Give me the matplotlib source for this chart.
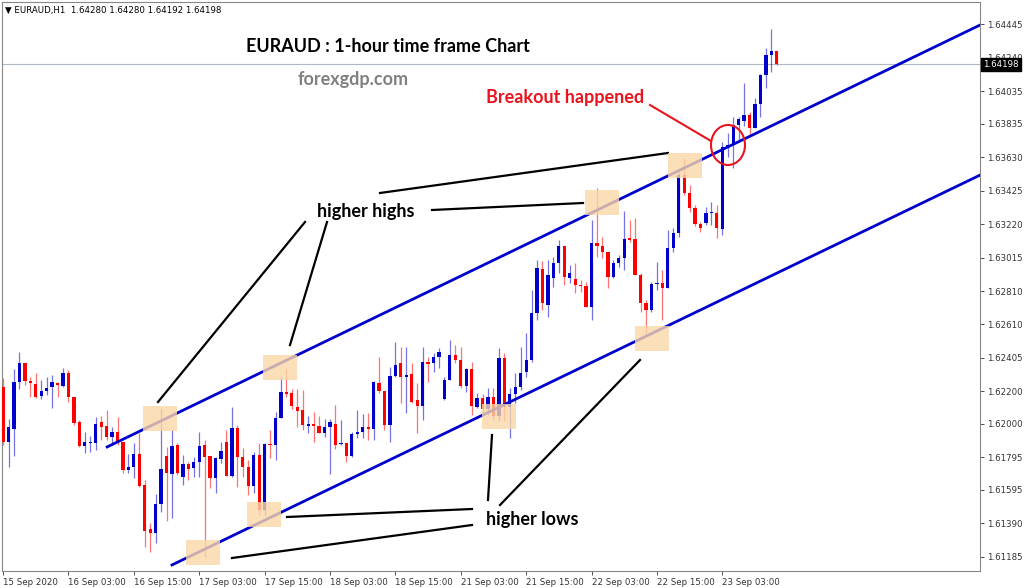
import matplotlib
matplotlib.use("Agg")
import matplotlib.pyplot as plt
from matplotlib.patches import Rectangle, Ellipse
import numpy as np

# ---- data (prices) ----
opens = [1.62224,1.61887,1.61967,1.62254,1.62370,1.62260,1.62242,1.62168,1.62199,1.62224,1.62248,1.62230,1.62309,1.62162,1.62009,1.61862,1.61881,1.61881,1.62009,1.61985,
         1.61918,1.61948,1.61887,1.61716,1.61734,1.61814,1.61624,1.61355,1.61330,1.61508,1.61801,1.61691,1.61869,1.61673,1.61752,1.61728,1.61765,1.61869,1.61801,1.61667,
         1.61783,1.61887,1.61679,1.61973,1.61795,1.61734,1.61618,1.61807,1.61471,1.61875,1.61869,1.62034,1.62193,1.62187,1.62101,1.62083,1.61985,1.61997,1.61985,1.61942,
         1.61979,1.61997,1.61875,1.61881,1.61801,1.61936,1.61948,1.61979,1.61967,1.62248,1.62199,1.61991,1.62291,1.62370,1.62285,1.62303,1.62144,1.62107,1.62377,1.62370,
         1.62407,1.62150,1.62266,1.62419,1.62389,1.62230,1.62334,1.62101,1.62156,1.62089,1.62162,1.62046,1.62401,1.62101,1.62181,1.62224,1.62315,1.62389,1.62676,1.62946,
         1.62725,1.62891,1.62982,1.63086,1.62891,1.62885,1.62848,1.62842,1.62713,1.63105,1.63086,1.63050,1.62897,1.62982,1.63013,1.63135,1.63129,1.62909,1.62738,1.62695,
         1.62854,1.62860,1.62829,1.63074,1.63166,1.63521,1.63411,1.63319,1.63221,1.63227,1.63288,1.63288,1.63191,1.63692,1.63705,1.63827,1.63851,1.63888,1.63809,1.63956,
         1.64133,1.64255,1.64280]
highs = [1.62279,1.62028,1.62334,1.62438,1.62370,1.62285,1.62309,1.62266,1.62285,1.62297,1.62254,1.62340,1.62328,1.62162,1.62022,1.61948,1.61924,1.62040,1.62046,1.62083,
         1.61979,1.62040,1.61887,1.61814,1.61881,1.61942,1.61654,1.61391,1.61569,1.62089,1.61856,1.61960,1.61881,1.61807,1.61765,1.61795,1.61948,1.61899,1.61801,1.61795,
         1.61887,1.61960,1.62101,1.61991,1.61850,1.61777,1.61826,1.61881,1.61881,1.61960,1.62071,1.62285,1.62334,1.62211,1.62211,1.62205,1.62046,1.62071,1.62046,1.62028,
         1.62028,1.62113,1.62022,1.61881,1.61948,1.62083,1.62058,1.62064,1.62260,1.62407,1.62199,1.62346,1.62499,1.62468,1.62468,1.62370,1.62248,1.62468,1.62407,1.62432,
         1.62462,1.62285,1.62511,1.62481,1.62468,1.62340,1.62377,1.62187,1.62181,1.62217,1.62217,1.62462,1.62432,1.62217,1.62309,1.62468,1.62554,1.62817,1.63001,1.62995,
         1.63001,1.63019,1.63123,1.63086,1.62970,1.62982,1.62878,1.62866,1.63246,1.63441,1.63142,1.63050,1.63001,1.63031,1.63301,1.63246,1.63258,1.62921,1.62756,1.62866,
         1.62989,1.62940,1.63184,1.63197,1.63539,1.63625,1.63460,1.63337,1.63233,1.63325,1.63356,1.63337,1.63723,1.63778,1.63876,1.63876,1.64084,1.63907,1.63992,1.64139,
         1.64298,1.64415,1.64280]
lows  = [1.61869,1.61734,1.61801,1.62211,1.62236,1.62162,1.62156,1.62150,1.62175,1.62095,1.62162,1.62224,1.62132,1.61991,1.61856,1.61820,1.61826,1.61838,1.61899,1.61899,
         1.61869,1.61869,1.61697,1.61697,1.61667,1.61612,1.61244,1.61214,1.61269,1.61459,1.61404,1.61422,1.61685,1.61624,1.61654,1.61673,1.61673,1.61183,1.61605,1.61575,
         1.61758,1.61679,1.61673,1.61612,1.61673,1.61563,1.61575,1.61440,1.61440,1.61789,1.61777,1.62034,1.62162,1.62089,1.61979,1.61960,1.61942,1.61887,1.61942,1.61918,
         1.61691,1.61844,1.61869,1.61765,1.61795,1.61911,1.61911,1.61899,1.61899,1.62187,1.61960,1.61887,1.62285,1.62126,1.62064,1.62126,1.61942,1.62022,1.62254,1.62315,
         1.62340,1.62144,1.62266,1.62370,1.62217,1.62193,1.62052,1.62095,1.62064,1.62052,1.62022,1.62015,1.62015,1.61911,1.62126,1.62205,1.62285,1.62377,1.62634,1.62695,
         1.62652,1.62836,1.62921,1.62848,1.62860,1.62799,1.62805,1.62713,1.62634,1.63019,1.63013,1.62829,1.62891,1.62958,1.62940,1.63111,1.62909,1.62683,1.62554,1.62683,
         1.62817,1.62634,1.62829,1.63050,1.63142,1.63399,1.63295,1.63209,1.63172,1.63215,1.63215,1.63135,1.63154,1.63631,1.63564,1.63735,1.63821,1.63766,1.63809,1.63876,
         1.64053,1.64151,1.64192]
closes = [1.61887,1.61979,1.62254,1.62370,1.62260,1.62248,1.62162,1.62199,1.62217,1.62254,1.62236,1.62309,1.62162,1.62003,1.61862,1.61887,1.61887,1.61997,1.61979,1.61918,
          1.61948,1.61887,1.61716,1.61734,1.61814,1.61618,1.61342,1.61330,1.61508,1.61722,1.61697,1.61862,1.61697,1.61752,1.61722,1.61765,1.61862,1.61795,1.61667,1.61789,
          1.61832,1.61679,1.61973,1.61795,1.61734,1.61618,1.61807,1.61471,1.61875,1.61869,1.62034,1.62193,1.62181,1.62107,1.62077,1.61991,1.61997,1.61985,1.61942,1.61979,
          1.62009,1.61869,1.61881,1.61801,1.61936,1.61948,1.61979,1.61967,1.62254,1.62199,1.61991,1.62291,1.62358,1.62285,1.62297,1.62132,1.62107,1.62377,1.62364,1.62407,
          1.62438,1.62266,1.62419,1.62389,1.62230,1.62334,1.62107,1.62156,1.62089,1.62162,1.62046,1.62401,1.62101,1.62181,1.62224,1.62309,1.62389,1.62676,1.62952,1.62738,
          1.62909,1.62982,1.63086,1.62897,1.62921,1.62848,1.62842,1.62713,1.63105,1.63086,1.63050,1.62897,1.62982,1.63013,1.63129,1.63123,1.62909,1.62738,1.62695,1.62854,
          1.62860,1.62829,1.63074,1.63166,1.63521,1.63411,1.63319,1.63221,1.63197,1.63288,1.63295,1.63197,1.63692,1.63705,1.63827,1.63864,1.63888,1.63809,1.63956,1.64133,
          1.64255,1.64280,1.64198]

tick_labels = ["15 Sep 2020","16 Sep 03:00","16 Sep 15:00","17 Sep 03:00","17 Sep 15:00","18 Sep 03:00",
               "18 Sep 15:00","21 Sep 03:00","21 Sep 15:00","22 Sep 03:00","22 Sep 15:00","23 Sep 03:00"]
tick_pos = [0,12,24,36,48,60,72,84,96,108,120,132]
price_ticks = [1.61185,1.61390,1.61595,1.61795,1.62000,1.62200,1.62405,1.62610,1.62810,1.63015,
               1.63220,1.63425,1.63630,1.63835,1.64035,1.64240,1.64445]
upper_channel_x = [19.1, 179.3]
upper_channel_y = [1.61858, 1.64439]
lower_channel_x = [31.0, 179.3]
lower_channel_y = [1.61136, 1.63521]
last_price = 1.64198

W, H = 1024, 588
fig = plt.figure(figsize=(W/100, H/100), dpi=100)
ax = fig.add_axes([2/W, 1-571/H, 978/W, 569/H])
ax.set_xlim(-0.2, 179.3)
ax.set_ylim(1.61099, 1.64580)

blue, red = "#0000CC", "#FF0000"
for i,(o,h,l,c) in enumerate(zip(opens,highs,lows,closes)):
    col = blue if c >= o else red
    ax.plot([i,i],[l,h], color=col, lw=0.9, alpha=0.55, zorder=3, solid_capstyle="butt")
    bot, top = min(o,c), max(o,c)
    ax.add_patch(Rectangle((i-0.3, bot), 0.6, max(top-bot, 0.00004), color=col, lw=0, zorder=4))

ax.plot(upper_channel_x, upper_channel_y, color="#0000CC", lw=2, zorder=5)
ax.plot(lower_channel_x, lower_channel_y, color="#0000CC", lw=2, zorder=5)
ax.axhline(last_price, color="#B0B8C4", lw=0.8, zorder=1)

ax.yaxis.tick_right()
ax.set_yticks(price_ticks)
ax.set_yticklabels([f"{v:.5f}" for v in price_ticks], fontsize=6.2, family="DejaVu Sans")
ax.set_xticks(tick_pos)
ax.set_xticklabels(tick_labels, fontsize=6.2, ha="left", family="DejaVu Sans")
ax.tick_params(length=3, width=0.6, colors="#333333", pad=2)
for s in ax.spines.values():
    s.set_color("#888888"); s.set_linewidth(0.8)
ax.text(1.003, (last_price-1.61099)/(1.64580-1.61099), "1.64198", transform=ax.transAxes,
        fontsize=6.2, color="white", va="center", ha="left", family="DejaVu Sans", zorder=10,
        bbox=dict(boxstyle="square,pad=0.25", fc="black", ec="black"))

def P(x, y):
    return (x/W, 1-y/H)
T = fig.transFigure
boxes = [(143,406),(263,355),(186,540),(247,502),(482,404),(585,190),(668,153),(635,326)]
for (bx,by) in boxes:
    fig.patches.append(Rectangle(P(bx,by+25), 34/W, 25/H, transform=T, fc="#FAD7A8", ec="none", alpha=0.8, zorder=2))

lines = [((158,402),(305,222)),((290,345),(327,222)),((380,193),(668,153)),((432,210),(583,203)),
         ((287,517),(472,509)),((232,558),(472,525)),((488,500),(492,435)),((500,505),(640,360))]
for a,b in lines:
    fig.add_artist(plt.Line2D([a[0]/W,b[0]/W],[1-a[1]/H,1-b[1]/H], transform=T, color="black", lw=1.6))
fig.add_artist(plt.Line2D([650/W,711/W],[1-105/H,1-141/H], transform=T, color="#E8141E", lw=1.5))
fig.add_artist(Ellipse(P(728,145), 34/W, 40/H, transform=T, fill=False, ec="#E8141E", lw=1.5))

fnt = "Lato"
fig.text(*P(366,212), "higher highs", fontsize=13, fontweight="bold", family=fnt, ha="center", va="center")
fig.text(*P(532,520), "higher lows", fontsize=13, fontweight="bold", family=fnt, ha="center", va="center")
fig.text(*P(565,98), "Breakout happened", fontsize=13, fontweight="bold", family=fnt, color="#E8141E", ha="center", va="center")
fig.text(*P(388,47), "EURAUD : 1-hour time frame Chart", fontsize=13, fontweight="bold", family=fnt, ha="center", va="center")
fig.text(*P(353,80), "forexgdp.com", fontsize=13, fontweight="bold", family=fnt, color="#808080", ha="center", va="center")
fig.text(*P(5,10), "\u25BC EURAUD,H1  1.64280 1.64280 1.64192 1.64198", fontsize=6.2, family="DejaVu Sans", ha="left", va="center")

fig.savefig("out.png", dpi=100)
